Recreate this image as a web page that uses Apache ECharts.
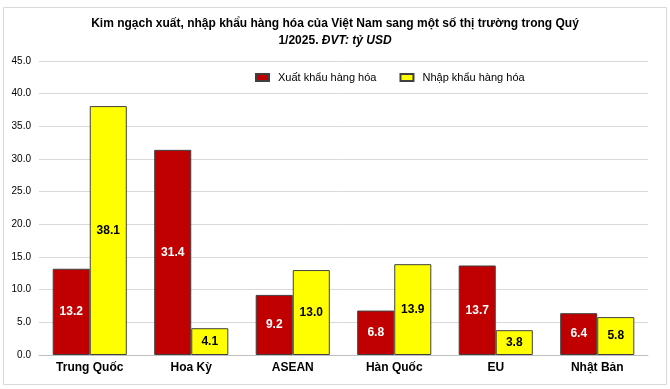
<!DOCTYPE html>
<html><head><meta charset="utf-8">
<script src="https://cdn.jsdelivr.net/npm/echarts@6/dist/echarts.min.js"></script>
<style>html,body{margin:0;padding:0;background:#fff}#c{width:670px;height:389px}</style>
</head><body><div id="c"></div>
<script>
const categories = ['Trung Quốc', 'Hoa Kỳ', 'ASEAN', 'Hàn Quốc', 'EU', 'Nhật Bản'];
const exportValues = [13.2, 31.4, 9.2, 6.8, 13.7, 6.4];
const importValues = [38.1, 4.1, 13.0, 13.9, 3.8, 5.8];
const seriesNames = ['Xuất khẩu hàng hóa', 'Nhập khẩu hàng hóa'];
const FONT = '"Liberation Sans", Arial, sans-serif';
const chart = echarts.init(document.getElementById('c'));
const titleRich = {
  a: { fontFamily: FONT, fontSize: 12, fontWeight: 'bold', color: '#000' },
  b: { fontFamily: FONT, fontSize: 12, fontWeight: 'bold', fontStyle: 'italic', color: '#000' }
};
chart.setOption({
  animation: false,
  graphic: [{ type: 'rect', shape: { x: 3.5, y: 7.5, width: 663, height: 377 }, style: { fill: 'none', stroke: '#d9d9d9', lineWidth: 1 }, z: -1 }],
  title: [
    { text: '{a|Kim ngạch xuất, nhập khẩu hàng hóa của Việt Nam sang một số thị trường trong Quý}', left: 'center', top: 18, padding: 0, textStyle: { rich: titleRich } },
    { text: '{a|1/2025. }{b|ĐVT: tỷ USD}', left: 'center', top: 35, padding: 0, textStyle: { rich: titleRich } }
  ],
  legend: {
    top: 67, left: 250, itemWidth: 13, itemHeight: 7, itemGap: 23, icon: 'rect',
    textStyle: { fontFamily: FONT, fontSize: 11, color: '#000', padding: [0, 0, 0, 4] },
    data: seriesNames
  },
  grid: { left: 39, right: 22, top: 61, bottom: 34, containLabel: false },
  xAxis: {
    type: 'category', data: categories,
    axisLine: { lineStyle: { color: '#bfbfbf' } },
    axisTick: { show: false },
    axisLabel: { fontFamily: FONT, fontSize: 12, fontWeight: 'bold', color: '#000', margin: 7 }
  },
  yAxis: {
    type: 'value', min: 0, max: 45, interval: 5,
    axisLine: { show: false }, axisTick: { show: false },
    splitLine: { lineStyle: { color: '#d9d9d9' } },
    axisLabel: { fontFamily: FONT, fontSize: 10, color: '#000', margin: 8, formatter: v => v.toFixed(1) }
  },
  series: [
    {
      name: seriesNames[0], type: 'bar', data: exportValues, barGap: '0%', barCategoryGap: '27%',
      itemStyle: { color: '#c00000', borderColor: '#404040', borderWidth: 1 },
      label: { show: true, position: 'inside', fontFamily: FONT, fontSize: 12, fontWeight: 'bold', color: '#fff', formatter: p => p.value.toFixed(1) }
    },
    {
      name: seriesNames[1], type: 'bar', data: importValues,
      itemStyle: { color: '#ffff00', borderColor: '#404040', borderWidth: 1 },
      label: { show: true, position: 'inside', fontFamily: FONT, fontSize: 12, fontWeight: 'bold', color: '#000', formatter: p => p.value.toFixed(1) }
    }
  ]
});
</script></body></html>
